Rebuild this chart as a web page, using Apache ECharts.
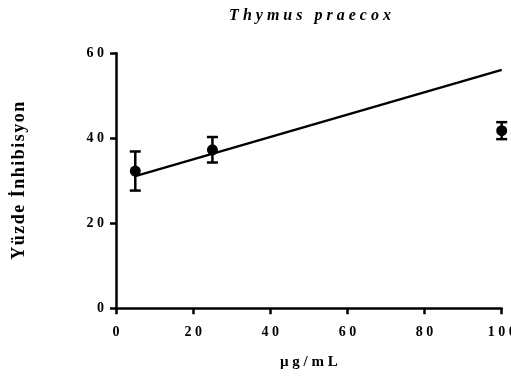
<!DOCTYPE html>
<html>
<head>
<meta charset="utf-8">
<script src="https://cdn.jsdelivr.net/npm/echarts@6/dist/echarts.min.js"></script>
<style>
  html, body { margin: 0; padding: 0; background: #ffffff; }
  #chart { width: 511px; height: 377px; }
</style>
</head>
<body>
<div id="chart"></div>
<script>
// Concentrations (µg/mL) and mean percent inhibition with error (±)
const concentrations = [5, 25, 100];
const inhibitionMeans = [32.3, 37.3, 41.8];
const inhibitionErrors = [4.6, 3.0, 2.0];

// Fitted line end points
const fitConcentrations = [5, 100];
const fitInhibition = [31.1, 56.1];

// Axis ticks
const xTickValues = [0, 20, 40, 60, 80, 100];
const yTickValues = [0, 20, 40, 60];

const titleText = 'Thymus praecox';
const xAxisTitle = 'µg/mL';
const yAxisTitle = 'Yüzde İnhibisyon';

// Widely tracked lettering, done with spaces between the glyphs
function spaced(text, gap) {
  return Array.from(text).join(gap);
}

const FONT = '"Liberation Serif", "DejaVu Serif", serif';

const meanPoints = concentrations.map((x, i) => [x, inhibitionMeans[i]]);
const errorBars = concentrations.map((x, i) => [
  x, inhibitionMeans[i] - inhibitionErrors[i], inhibitionMeans[i] + inhibitionErrors[i]
]);
const fitPoints = fitConcentrations.map((x, i) => [x, fitInhibition[i]]);

const chart = echarts.init(document.getElementById('chart'), null, { renderer: 'canvas' });

chart.setOption({
  animation: false,
  backgroundColor: '#ffffff',
  title: {
    text: spaced(titleText, ' '),
    left: 305,
    textAlign: 'center',
    top: 3,
    textStyle: {
      fontFamily: FONT,
      fontSize: 16,
      fontWeight: 'bold',
      fontStyle: 'italic',
      color: '#000'
    }
  },
  grid: {
    left: 116, right: 9.3, top: 53.3, bottom: 68.7,
    containLabel: false,
    outerBoundsMode: 'none'
  },
  xAxis: {
    type: 'value',
    min: 0,
    max: 100,
    interval: 20,
    name: spaced(xAxisTitle, ' '),
    nameLocation: 'middle',
    nameGap: 46,
    nameTextStyle: { fontFamily: FONT, fontSize: 15, fontWeight: 'bold', color: '#000' },
    axisLine: { show: true, onZero: false, lineStyle: { color: '#000', width: 2.5 } },
    axisTick: { show: true, inside: false, length: 6, lineStyle: { color: '#000', width: 2.5 },
      customValues: xTickValues },
    axisLabel: {
      margin: 17,
      fontFamily: FONT, fontSize: 14, fontWeight: 'bold', color: '#000',
      customValues: xTickValues,
      formatter: v => spaced(String(v), ' ')
    },
    splitLine: { show: false }
  },
  yAxis: {
    type: 'value',
    min: 0,
    max: 60,
    interval: 20,
    name: spaced(yAxisTitle, '\u200A'),
    nameLocation: 'middle',
    nameRotate: 90,
    nameGap: 88,
    nameTextStyle: { fontFamily: FONT, fontSize: 18, fontWeight: 'bold', color: '#000' },
    axisLine: { show: true, onZero: false, lineStyle: { color: '#000', width: 2.5 } },
    axisTick: { show: true, inside: false, length: 6, lineStyle: { color: '#000', width: 2.5 },
      customValues: yTickValues },
    axisLabel: {
      margin: 12,
      fontFamily: FONT, fontSize: 14, fontWeight: 'bold', color: '#000',
      customValues: yTickValues,
      formatter: v => spaced(String(v), ' ')
    },
    splitLine: { show: false }
  },
  series: [
    {
      name: 'fit',
      type: 'line',
      data: fitPoints,
      showSymbol: false,
      symbol: 'none',
      lineStyle: { color: '#000', width: 2.5 },
      z: 2,
      clip: false
    },
    {
      name: 'error',
      type: 'custom',
      data: errorBars,
      clip: false,
      z: 3,
      renderItem: function (params, api) {
        const x = api.value(0);
        const lo = api.coord([x, api.value(1)]);
        const hi = api.coord([x, api.value(2)]);
        const half = 5.5;
        const style = { stroke: '#000', lineWidth: 2.5 };
        return {
          type: 'group',
          children: [
            { type: 'line', shape: { x1: lo[0], y1: lo[1], x2: hi[0], y2: hi[1] }, style },
            { type: 'line', shape: { x1: hi[0] - half, y1: hi[1], x2: hi[0] + half, y2: hi[1] }, style },
            { type: 'line', shape: { x1: lo[0] - half, y1: lo[1], x2: lo[0] + half, y2: lo[1] }, style }
          ]
        };
      }
    },
    {
      name: 'mean',
      type: 'scatter',
      data: meanPoints,
      symbol: 'circle',
      symbolSize: 11,
      itemStyle: { color: '#000', opacity: 1 },
      z: 4,
      clip: false
    }
  ]
});
</script>
</body>
</html>
